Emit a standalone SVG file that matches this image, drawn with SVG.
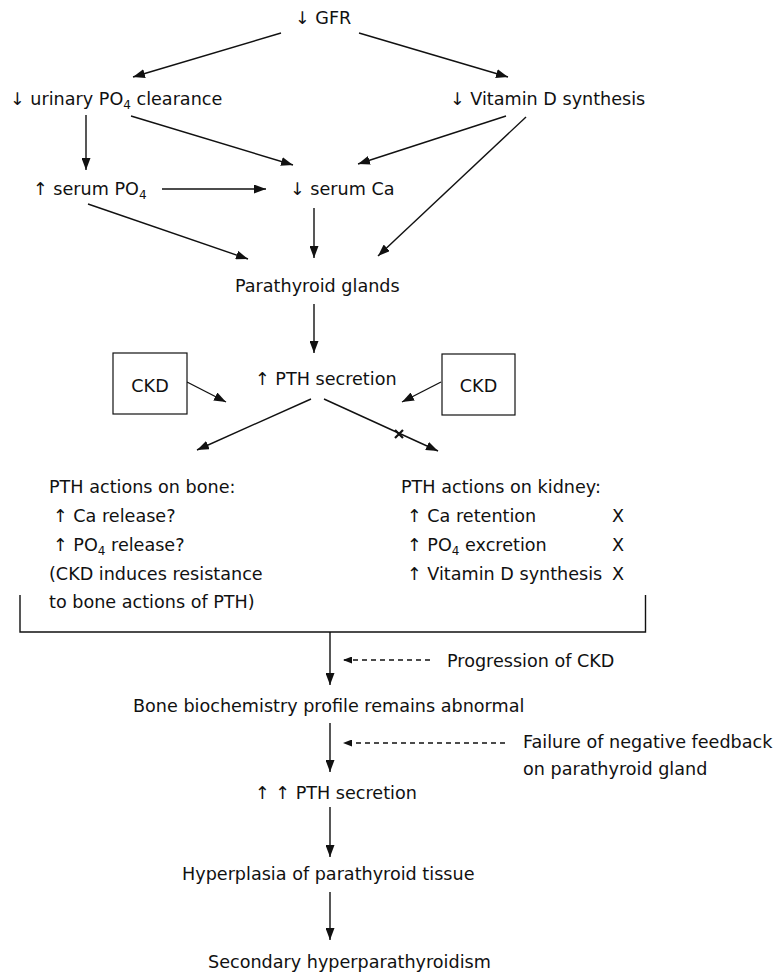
<svg xmlns="http://www.w3.org/2000/svg" width="781" height="975" viewBox="0 0 781 975">
<defs>
<style>
text{font-family:"DejaVu Sans","Liberation Sans",sans-serif;font-size:17.6px;fill:#111;}
.sub{font-size:12px;}
.ln{stroke:#111;stroke-width:1.4;fill:none;}
.dash{stroke:#111;stroke-width:1.3;fill:none;stroke-dasharray:5,4;}
.box{stroke:#111;stroke-width:1.2;fill:#fff;}
</style>
<marker id="ah" viewBox="0 0 12 9" refX="12" refY="4.5" markerWidth="12" markerHeight="9" markerUnits="userSpaceOnUse" orient="auto"><path d="M0,0 L12,4.5 L0,9 z" fill="#111"/></marker>
<marker id="ahs" viewBox="0 0 9 7" refX="9" refY="3.5" markerWidth="9" markerHeight="7" markerUnits="userSpaceOnUse" orient="auto"><path d="M0,0 L9,3.5 L0,7 z" fill="#111"/></marker>
</defs>
<rect width="781" height="975" fill="#fff"/>
<g id="connectors">
<line class="ln" x1="281" y1="33" x2="133" y2="77" marker-end="url(#ah)"/>
<line class="ln" x1="359" y1="33" x2="508" y2="77" marker-end="url(#ah)"/>
<line class="ln" x1="86" y1="115" x2="86" y2="170" marker-end="url(#ah)"/>
<line class="ln" x1="131" y1="116" x2="293" y2="165" marker-end="url(#ah)"/>
<line class="ln" x1="506" y1="116" x2="358" y2="164" marker-end="url(#ah)"/>
<line class="ln" x1="526" y1="117" x2="378" y2="256" marker-end="url(#ah)"/>
<line class="ln" x1="162" y1="189" x2="266" y2="189" marker-end="url(#ah)"/>
<line class="ln" x1="88" y1="204" x2="248" y2="259" marker-end="url(#ah)"/>
<line class="ln" x1="314" y1="208" x2="314" y2="258" marker-end="url(#ah)"/>
<line class="ln" x1="314" y1="304" x2="314" y2="353" marker-end="url(#ah)"/>
<line class="ln" x1="187" y1="382" x2="226" y2="402" marker-end="url(#ah)"/>
<line class="ln" x1="441" y1="382" x2="402" y2="402" marker-end="url(#ah)"/>
<line class="ln" x1="311" y1="399" x2="197" y2="450" marker-end="url(#ah)"/>
<line class="ln" x1="324" y1="399" x2="438" y2="451" marker-end="url(#ah)"/>
<path d="M395,430 L403,438 M403,430 L395,438" stroke="#111" stroke-width="2.2"/>
<polyline class="ln" points="20,595 20,632 645.5,632 645.5,595"/>
<line class="ln" x1="330" y1="632" x2="330" y2="685" marker-end="url(#ah)"/>
<line class="dash" x1="430" y1="660" x2="343" y2="660" marker-end="url(#ahs)"/>
<line class="ln" x1="330" y1="723" x2="330" y2="772" marker-end="url(#ah)"/>
<line class="dash" x1="505" y1="743" x2="343" y2="743" marker-end="url(#ahs)"/>
<line class="ln" x1="330" y1="807" x2="330" y2="857" marker-end="url(#ah)"/>
<line class="ln" x1="330" y1="892" x2="330" y2="940" marker-end="url(#ah)"/>
</g>
<g id="gfr"><text x="295" y="24">↓ GFR</text></g>
<g id="urinary"><text x="10" y="105">↓ urinary PO<tspan class="sub" dy="4">4</tspan><tspan dy="-4"> clearance</tspan></text></g>
<g id="vitd"><text x="450" y="105">↓ Vitamin D synthesis</text></g>
<g id="serumpo4"><text x="33" y="195">↑ serum PO<tspan class="sub" dy="4">4</tspan></text></g>
<g id="serumca"><text x="290" y="195">↓ serum Ca</text></g>
<g id="parathyroid"><text x="235" y="292">Parathyroid glands</text></g>
<g id="pth"><text x="255" y="385">↑ PTH secretion</text></g>
<g id="ckd-left"><rect class="box" x="113" y="353" width="74" height="61"/><text x="150" y="392" text-anchor="middle">CKD</text></g>
<g id="ckd-right"><rect class="box" x="442" y="354" width="73" height="61"/><text x="478.5" y="392" text-anchor="middle">CKD</text></g>
<g id="bone">
<text x="49" y="493">PTH actions on bone:</text>
<text x="53" y="522">↑ Ca release?</text>
<text x="53" y="551">↑ PO<tspan class="sub" dy="4">4</tspan><tspan dy="-4"> release?</tspan></text>
<text x="49" y="580">(CKD induces resistance</text>
<text x="49" y="608">to bone actions of PTH)</text>
</g>
<g id="kidney">
<text x="401" y="493">PTH actions on kidney:</text>
<text x="407" y="522">↑ Ca retention</text>
<text x="407" y="551">↑ PO<tspan class="sub" dy="4">4</tspan><tspan dy="-4"> excretion</tspan></text>
<text x="407" y="580">↑ Vitamin D synthesis</text>
<text x="612" y="522">X</text>
<text x="612" y="551">X</text>
<text x="612" y="580">X</text>
</g>
<g id="progression"><text x="447" y="667">Progression of CKD</text></g>
<g id="biochem"><text x="133" y="712">Bone biochemistry profile remains abnormal</text></g>
<g id="failure"><text x="523" y="748">Failure of negative feedback</text><text x="523" y="775">on parathyroid gland</text></g>
<g id="pth2"><text x="255" y="799">↑ ↑ PTH secretion</text></g>
<g id="hyperplasia"><text x="182" y="880">Hyperplasia of parathyroid tissue</text></g>
<g id="secondary"><text x="208" y="968">Secondary hyperparathyroidism</text></g>
</svg>
